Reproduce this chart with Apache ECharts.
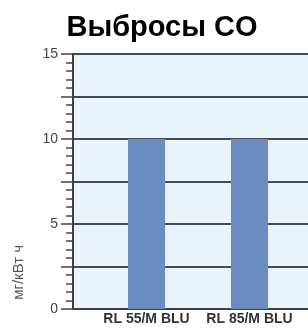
<!DOCTYPE html>
<html><head><meta charset="utf-8">
<script src="https://cdn.jsdelivr.net/npm/echarts@6/dist/echarts.min.js"></script>
<style>html,body{margin:0;padding:0;background:#fff}#c{width:308px;height:329px}</style>
</head><body><div id="c"></div>
<script>
var titleText = 'Выбросы CO';
var unitLabel = 'мг/кВт ч';
var categories = ['RL 55/M BLU', 'RL 85/M BLU'];
var values = [10, 10];
var yMin = 0, yMax = 15, yStep = 2.5;

var chart = echarts.init(document.getElementById('c'), null, {renderer: 'canvas'});
chart.setOption({
  animation: false,
  title: {text: titleText, left: 157, top: 8, textAlign: 'center',
    textStyle: {fontFamily: 'Liberation Sans, Arial', fontWeight: 'bold', fontSize: 29, color: '#000'}},
  grid: [
    {left: 73, top: 54, right: -2, bottom: 20, show: true, backgroundColor: '#e8f3fb', borderWidth: 0},
    {left: 95, top: 54, width: 206, bottom: 20}
  ],
  xAxis: [
    {gridIndex: 0, type: 'category', data: [''], axisLine: {show: true, lineStyle: {color: '#3f3f3f', width: 2}},
      axisTick: {show: false}, axisLabel: {show: false}, splitLine: {show: false}},
    {gridIndex: 1, type: 'category', data: categories, axisLine: {show: false}, axisTick: {show: false},
      axisLabel: {interval: 0, margin: 3, fontFamily: 'Liberation Sans, Arial', fontWeight: 'bold', fontSize: 14, color: '#333'}}
  ],
  yAxis: [
    {gridIndex: 0, type: 'value', min: yMin, max: yMax, interval: yStep,
      axisLine: {show: true, lineStyle: {color: '#3f3f3f', width: 2}},
      axisTick: {show: true, length: 12, lineStyle: {color: '#444', width: 1.5}},
      minorTick: {show: true, splitNumber: 5, length: 7, lineStyle: {color: '#444', width: 1.5}},
      splitLine: {show: true, lineStyle: {color: '#4a4a4a', width: 2}},
      axisLabel: {margin: 15, fontFamily: 'Liberation Sans, Arial', fontSize: 14, color: '#444',
        formatter: function (v) { return v % 5 === 0 ? String(v) : ''; }}},
    {gridIndex: 1, type: 'value', min: yMin, max: yMax, interval: yStep, show: false}
  ],
  series: [{
    type: 'bar', xAxisIndex: 1, yAxisIndex: 1, data: values, barWidth: 37,
    itemStyle: {color: '#6b8cc1'}
  }],
  graphic: [{
    type: 'text', left: 11, top: 245, rotation: Math.PI / 2,
    style: {text: unitLabel, fontFamily: 'Liberation Sans, Arial', fontSize: 15, fill: '#555'}
  }]
});
</script></body></html>
